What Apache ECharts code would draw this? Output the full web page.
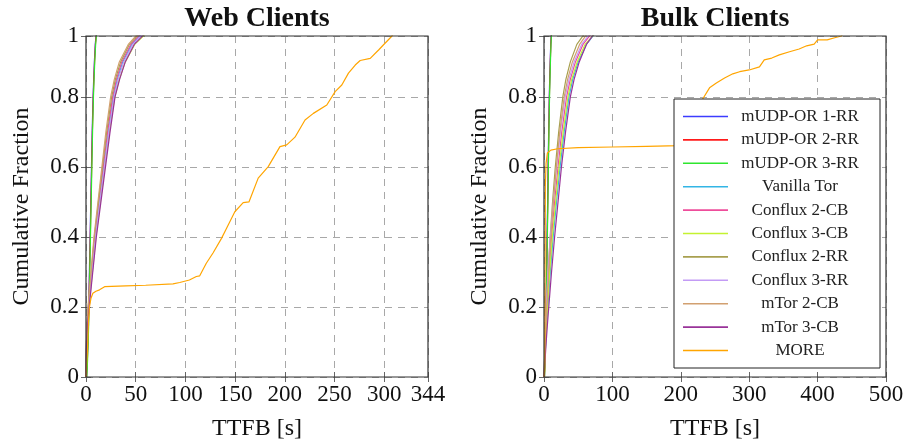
<!DOCTYPE html>
<html>
<head>
<meta charset="utf-8">
<script src="https://cdn.jsdelivr.net/npm/echarts@6/dist/echarts.min.js"></script>
<style>
html,body{margin:0;padding:0;background:#fff;}
#c{width:907px;height:447px;}
</style>
</head>
<body>
<div id="c"></div>
<script>
// ---- data ----
const seriesNames = ['mUDP-OR 1-RR','mUDP-OR 2-RR','mUDP-OR 3-RR','Vanilla Tor','Conflux 2-CB','Conflux 3-CB','Conflux 2-RR','Conflux 3-RR','mTor 2-CB','mTor 3-CB','MORE'];
const seriesColors = ['#3c3cff','#ff1a1a','#2ee62e','#33b5e5','#ee4d9b','#c4f230','#a8a050','#c39bf5','#d2a070','#993399','#ffa500'];

const cdfLevels = [0, 0.05, 0.1, 0.15, 0.2, 0.3, 0.4, 0.5, 0.6, 0.7, 0.8, 0.85, 0.9, 0.95, 0.98, 1.0];

// Web clients: TTFB (s) at each cdf level
const webMudp1 = [0.5, 1.2, 1.8, 2.3, 2.7, 3.4, 4.1, 4.8, 5.5, 6.2, 7.1, 7.7, 8.4, 9.3, 10.2, 11.8];
const webMudp2 = [0.6, 1.4, 2.0, 2.5, 2.9, 3.6, 4.3, 5.0, 5.7, 6.4, 7.3, 7.9, 8.6, 9.5, 10.4, 12.0];
const webMudp3 = [0.8, 1.6, 2.2, 2.7, 3.1, 3.8, 4.5, 5.2, 5.9, 6.6, 7.5, 8.1, 8.8, 9.7, 10.6, 12.2];
const webVanilla = [0, 0.2, 0.6, 1.3, 2.6, 5.9, 9.2, 13.5, 17.9, 22.4, 27.5, 31.5, 37.0, 46.0, 56.0, 63.0];
const webConflux2CB = [0, 0.2, 0.5, 1.2, 2.4, 5.6, 8.8, 13.0, 17.3, 21.7, 26.8, 30.6, 36.0, 45.0, 55.0, 62.0];
const webConflux3CB = [0, 0.3, 0.7, 1.5, 3.0, 6.5, 10.0, 14.5, 19.0, 23.6, 29.0, 33.5, 39.5, 49.0, 60.0, 67.0];
const webConflux2RR = [0, 0.2, 0.5, 1.1, 2.2, 5.3, 8.4, 12.5, 16.6, 20.8, 25.8, 29.5, 34.8, 43.5, 53.5, 60.0];
const webConflux3RR = [0, 0.2, 0.6, 1.4, 2.8, 6.2, 9.6, 14.0, 18.5, 23.0, 28.2, 32.3, 38.0, 47.0, 57.0, 64.0];
const webMtor2CB = [0, 0.2, 0.5, 1.0, 2.0, 5.0, 8.0, 12.0, 16.0, 20.0, 24.8, 28.5, 33.5, 42.5, 52.0, 58.0];
const webMtor3CB = [0, 0.3, 0.7, 1.6, 3.2, 6.8, 10.4, 15.0, 19.6, 24.2, 29.2, 33.8, 39.5, 48.5, 59.0, 66.0];
const webMoreX = [0, 0.8, 1.5, 2.5, 3.5, 5, 6.9, 10, 13.6, 18.7, 40, 60, 87.5, 94.3, 104, 111, 114.4, 121, 127.9, 136.3, 141.4, 149.7, 158.1, 163.9, 173.2, 183.3, 195.1, 201.9, 210.2, 220.3, 228.7, 242.2, 250.6, 257.3, 264, 270.8, 275.8, 285.9, 294.3, 299.3, 307.8, 312];
const webMoreY = [0, 0, 0.08, 0.16, 0.2, 0.225, 0.239, 0.245, 0.249, 0.258, 0.26, 0.262, 0.266, 0.27, 0.277, 0.287, 0.289, 0.325, 0.355, 0.396, 0.425, 0.472, 0.498, 0.5, 0.568, 0.601, 0.658, 0.663, 0.685, 0.734, 0.753, 0.777, 0.815, 0.834, 0.868, 0.891, 0.904, 0.91, 0.934, 0.949, 0.974, 1.0];

// Bulk clients
const bulkMudp1 = [0.6, 1.3, 1.9, 2.4, 2.9, 3.7, 4.5, 5.3, 6.0, 6.8, 7.7, 8.3, 9.0, 9.8, 10.5, 11.5];
const bulkMudp2 = [0.7, 1.5, 2.1, 2.6, 3.1, 3.9, 4.7, 5.5, 6.2, 7.0, 7.9, 8.5, 9.2, 10.0, 10.8, 11.8];
const bulkMudp3 = [0.8, 1.7, 2.3, 2.8, 3.3, 4.1, 4.9, 5.7, 6.4, 7.2, 8.1, 8.7, 9.4, 10.2, 11.0, 12.0];
const bulkVanilla = [0, 1.3, 2.6, 4.0, 5.6, 9.2, 13.4, 18.3, 23.5, 29.5, 36.5, 42.0, 50.0, 62.0, 74.0, 82.0];
const bulkConflux2CB = [0, 1.0, 2.0, 3.2, 4.5, 7.5, 11.0, 15.5, 20.5, 26.0, 33.0, 38.5, 46.0, 57.0, 69.0, 78.0];
const bulkConflux3CB = [0, 1.1, 2.3, 3.6, 5.0, 8.3, 12.2, 17.0, 22.0, 28.0, 35.0, 40.5, 48.5, 60.0, 74.0, 83.0];
const bulkConflux2RR = [0, 0.8, 1.6, 2.5, 3.5, 6.0, 9.0, 12.5, 16.5, 21.5, 27.5, 32.0, 38.5, 48.0, 59.0, 68.0];
const bulkConflux3RR = [0, 0.7, 1.4, 2.2, 3.2, 5.8, 9.2, 13.5, 18.5, 24.0, 31.0, 36.5, 44.0, 55.0, 67.0, 76.0];
const bulkMtor2CB = [0, 0.9, 1.8, 2.8, 4.0, 6.8, 10.0, 13.8, 18.0, 23.0, 29.5, 34.5, 41.5, 52.0, 63.0, 72.0];
const bulkMtor3CB = [0, 1.6, 3.2, 5.0, 7.0, 11.0, 15.5, 20.5, 25.5, 31.5, 38.5, 44.0, 51.5, 62.0, 73.0, 80.0];
const bulkMoreX = [0, 1, 1.5, 2, 3, 5, 10, 20, 50, 100, 150, 197, 205, 215, 225, 232, 242, 252, 264, 276, 286, 300, 315, 322, 333, 344, 359, 373, 384, 395, 400, 414, 425, 435, 440];
const bulkMoreY = [0, 0.02, 0.3, 0.55, 0.61, 0.64, 0.648, 0.652, 0.655, 0.657, 0.659, 0.661, 0.68, 0.72, 0.76, 0.794, 0.826, 0.84, 0.854, 0.866, 0.872, 0.877, 0.886, 0.906, 0.911, 0.92, 0.929, 0.937, 0.946, 0.951, 0.963, 0.963, 0.969, 0.974, 1.0];

const webXMax = 344, bulkXMax = 500;
const xInterval = [50, 100];
const yTop = 0.974;

// ---- build ----
function pairs(xs, ys) { return xs.map((x, i) => [x, ys[i]]); }
const webCdf = [webMudp1, webMudp2, webMudp3, webVanilla, webConflux2CB, webConflux3CB, webConflux2RR, webConflux3RR, webMtor2CB, webMtor3CB];
const bulkCdf = [bulkMudp1, bulkMudp2, bulkMudp3, bulkVanilla, bulkConflux2CB, bulkConflux3CB, bulkConflux2RR, bulkConflux3RR, bulkMtor2CB, bulkMtor3CB];

const FONT = 'Liberation Serif';
const series = [];
function addSeries(idx, data, axisIdx) {
  series.push({
    name: seriesNames[idx], type: 'line', data: data,
    xAxisIndex: axisIdx, yAxisIndex: axisIdx,
    showSymbol: false, symbol: 'none', smooth: false,
    lineStyle: { color: seriesColors[idx], width: 1.2 },
    itemStyle: { color: seriesColors[idx] },
    z: 2
  });
}
webCdf.forEach((xs, i) => addSeries(i, pairs(xs, cdfLevels), 0));
addSeries(10, pairs(webMoreX, webMoreY), 0);
bulkCdf.forEach((xs, i) => addSeries(i, pairs(xs, cdfLevels), 1));
addSeries(10, pairs(bulkMoreX, bulkMoreY), 1);

const splitStyle = { show: true, lineStyle: { color: '#a8a8a8', type: [7, 6], width: 1 } };
const tickStyle = { show: true, inside: true, length: 5, lineStyle: { color: '#666', width: 1 } };
const labelText = { fontFamily: FONT, fontSize: 23, color: '#111' };

function mkX(gi, max, interval) {
  return [{
    gridIndex: gi, type: 'value', min: 0, max: max, interval: interval, position: 'bottom',
    axisLine: { show: false }, axisTick: tickStyle, splitLine: splitStyle,
    axisLabel: Object.assign({ margin: 6, showMaxLabel: true, showMinLabel: true }, labelText),
    name: 'TTFB [s]', nameLocation: 'middle', nameGap: 40,
    nameTextStyle: { fontFamily: FONT, fontSize: 24, color: '#111' }
  }, {
    gridIndex: gi, type: 'value', min: 0, max: max, interval: interval, position: 'top',
    axisLine: { show: false }, axisTick: tickStyle, splitLine: { show: false }, axisLabel: { show: false }
  }];
}
function mkY(gi) {
  return [{
    gridIndex: gi, type: 'value', min: 0, max: yTop, interval: 0.2, position: 'left',
    axisLine: { show: false }, axisTick: tickStyle, splitLine: splitStyle,
    axisLabel: Object.assign({ margin: 7, showMaxLabel: true,
      formatter: v => (v > 0.95 ? '1' : (v === 0 ? '0' : String(Math.round(v * 10) / 10))) }, labelText),
    name: 'Cumulative Fraction', nameLocation: 'middle', nameGap: 52, nameRotate: 90,
    nameTextStyle: { fontFamily: FONT, fontSize: 24, color: '#111' }
  }, {
    gridIndex: gi, type: 'value', min: 0, max: yTop, interval: 0.2, position: 'right',
    axisLine: { show: false }, axisTick: tickStyle, splitLine: { show: false }, axisLabel: { show: false }
  }];
}
const wx = mkX(0, webXMax, xInterval[0]);
const bx = mkX(1, bulkXMax, xInterval[1]);
const wy = mkY(0);
const by = mkY(1);
const xAxes = [wx[0], bx[0], wx[1], bx[1]];
const yAxes = [wy[0], by[0], wy[1], by[1]];

const option = {
  animation: false,
  backgroundColor: '#fff',
  title: [
    { text: 'Web Clients', left: 257, top: 5, textAlign: 'center', padding: 0,
      textStyle: { fontFamily: FONT, fontWeight: 'bold', fontSize: 28, color: '#111' } },
    { text: 'Bulk Clients', left: 715, top: 5, textAlign: 'center', padding: 0,
      textStyle: { fontFamily: FONT, fontWeight: 'bold', fontSize: 28, color: '#111' } }
  ],
  grid: [
    { left: 86, right: 479, top: 36, bottom: 70, show: true, borderColor: '#333', borderWidth: 1.2, backgroundColor: 'transparent', z: 3 },
    { left: 544, right: 21, top: 36, bottom: 70, show: true, borderColor: '#333', borderWidth: 1.2, backgroundColor: 'transparent', z: 3 }
  ],
  xAxis: xAxes,
  yAxis: yAxes,
  legend: {
    data: seriesNames, orient: 'vertical', left: 674, top: 99,
    padding: [9, 13, 9, 9], itemGap: 6.4, itemWidth: 45, itemHeight: 1.6, itemTextGap: 5,
    icon: 'rect', backgroundColor: '#fff', borderColor: '#222', borderWidth: 1,
    selectedMode: false, z: 10,
    formatter: n => '{t|' + n + '}',
    textStyle: { fontFamily: FONT, fontSize: 17, color: '#222',
      rich: { t: { width: 134, align: 'center', fontFamily: FONT, fontSize: 17, lineHeight: 16, color: '#222' } } }
  },
  series: series
};
const chart = echarts.init(document.getElementById('c'), null, { renderer: 'canvas' });
chart.setOption(option);
</script>
</body>
</html>
